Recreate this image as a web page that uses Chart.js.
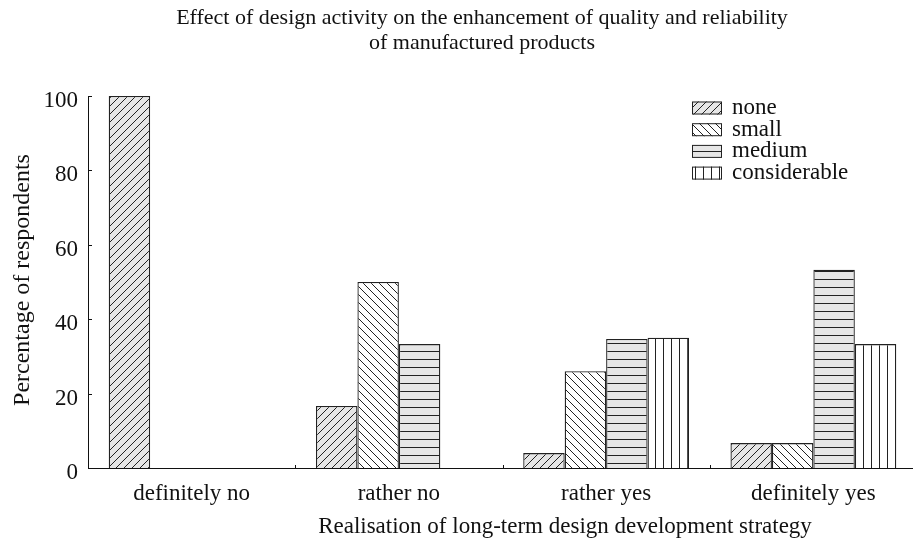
<!DOCTYPE html>
<html lang="en">
<head>
    <meta charset="UTF-8">
    <title>Design activity and quality</title>
    <style>
        * { margin: 0; padding: 0; box-sizing: border-box; }
        body { background: #fff; width: 913px; height: 546px; overflow: hidden; }
        #wrap { position: relative; width: 917px; height: 546px; }
    </style>
</head>
<body>
    <div id="wrap"><canvas id="chart"></canvas></div>
    <script src="https://cdn.jsdelivr.net/npm/chart.js@4.4.1/dist/chart.umd.min.js"></script>
    <script>
        // data
        const categories = ["definitely no", "rather no", "rather yes", "definitely yes"];
        const seriesNames = ["none", "small", "medium", "considerable"];
        const noneVals = [100, 16.7, 4, 6.7];
        const smallVals = [0, 50, 26, 6.7];
        const mediumVals = [0, 33.3, 34.7, 53.3];
        const considerableVals = [0, 0, 35, 33.3];
        const yTicks = [0, 20, 40, 60, 80, 100];

        const titleLines = ["Effect of design activity on the enhancement of quality and reliability",
            "of manufactured products"];
        const xTitle = "Realisation of long-term design development strategy";
        const yTitle = "Percentage of respondents";

        const FONT = "'Liberation Serif', 'Times New Roman', serif";
        const INK = "#111";

        // hatch patterns
        function makePattern(kind) {
            const s = 8;
            const c = document.createElement("canvas");
            c.width = s; c.height = s;
            const g = c.getContext("2d");
            g.fillStyle = (kind === "fwd" || kind === "horiz") ? "#e6e6e6" : "#ffffff";
            g.fillRect(0, 0, s, s);
            g.strokeStyle = "#222";
            g.lineWidth = 1;
            g.beginPath();
            if (kind === "fwd") {
                g.moveTo(-1, s + 1); g.lineTo(s + 1, -1);
                g.moveTo(-1, 1); g.lineTo(1, -1);
                g.moveTo(s - 1, s + 1); g.lineTo(s + 1, s - 1);
            } else if (kind === "back") {
                g.moveTo(-1, -1); g.lineTo(s + 1, s + 1);
                g.moveTo(s - 1, -1); g.lineTo(s + 1, 1);
                g.moveTo(-1, s - 1); g.lineTo(1, s + 1);
            } else if (kind === "horiz") {
                g.moveTo(0, s - 0.5); g.lineTo(s, s - 0.5);
            } else {
                g.moveTo(s - 0.5, 0); g.lineTo(s - 0.5, s);
            }
            g.stroke();
            return g.createPattern(c, "repeat");
        }
        const fills = [makePattern("fwd"), makePattern("back"), makePattern("horiz"), makePattern("vert")];
        const allVals = [noneVals, smallVals, mediumVals, considerableVals];

        // titles, inward ticks and legend drawn on top
        const decor = {
            id: "decor",
            afterDraw(chart) {
                const ctx = chart.ctx;
                const xs = chart.scales.x, ys = chart.scales.y;
                const area = chart.chartArea;
                ctx.save();
                ctx.strokeStyle = INK;
                ctx.lineWidth = 1;
                ctx.beginPath();
                yTicks.forEach(v => {
                    const y = Math.round(ys.getPixelForValue(v)) + 0.5;
                    ctx.moveTo(area.left, y); ctx.lineTo(area.left + 4, y);
                });
                for (let i = 1; i < categories.length; i++) {
                    const x = Math.round((xs.getPixelForTick(i - 1) + xs.getPixelForTick(i)) / 2) + 0.5;
                    ctx.moveTo(x, area.bottom); ctx.lineTo(x, area.bottom - 3);
                }
                ctx.stroke();

                ctx.fillStyle = INK;
                ctx.textAlign = "center";
                ctx.textBaseline = "middle";
                ctx.font = "22px " + FONT;
                ctx.fillText(titleLines[0], 482, 18);
                ctx.fillText(titleLines[1], 482, 43);
                ctx.font = "23px " + FONT;
                ctx.fillText(xTitle, 565, 527);
                ctx.save();
                ctx.font = "24px " + FONT;
                ctx.translate(23, 280);
                ctx.rotate(-Math.PI / 2);
                ctx.fillText(yTitle, 0, 0);
                ctx.restore();

                // legend
                ctx.textAlign = "left";
                chart.data.datasets.forEach((ds, i) => {
                    const cy = 108 + i * 21.7;
                    ctx.fillStyle = ds.backgroundColor;
                    ctx.fillRect(692, cy - 6.5, 30, 13);
                    ctx.strokeStyle = "#222";
                    ctx.strokeRect(692.5, cy - 6, 29, 12);
                    ctx.fillStyle = INK;
                    ctx.fillText(ds.label, 732, cy);
                });
                ctx.restore();
            }
        };

        new Chart(document.getElementById("chart"), {
            type: "bar",
            data: {
                labels: categories,
                datasets: seriesNames.map((name, i) => ({
                    label: name,
                    data: allVals[i],
                    backgroundColor: fills[i],
                    borderColor: "#222",
                    borderWidth: 1.3,
                    borderSkipped: "start",
                    categoryPercentage: 0.8,
                    barPercentage: 1.0
                }))
            },
            options: {
                responsive: true,
                maintainAspectRatio: false,
                animation: false,
                layout: { padding: { top: 96, right: 0, bottom: 0, left: 0 } },
                plugins: {
                    legend: { display: false },
                    tooltip: { enabled: false }
                },
                scales: {
                    x: {
                        grid: { display: false, drawTicks: false },
                        border: { display: true, color: INK, width: 1 },
                        ticks: { color: INK, font: { family: FONT, size: 23 }, padding: 12 },
                        afterFit(scale) { scale.height = 78; }
                    },
                    y: {
                        min: 0,
                        max: 100,
                        afterBuildTicks(scale) { scale.ticks = yTicks.map(v => ({ value: v })); },
                        grid: { display: false, drawTicks: false },
                        border: { display: true, color: INK, width: 1 },
                        ticks: { color: INK, font: { family: FONT, size: 23 }, padding: 10, labelOffset: 5 },
                        afterFit(scale) { scale.width = 88; }
                    }
                }
            },
            plugins: [decor]
        });
    </script>
</body>
</html>
